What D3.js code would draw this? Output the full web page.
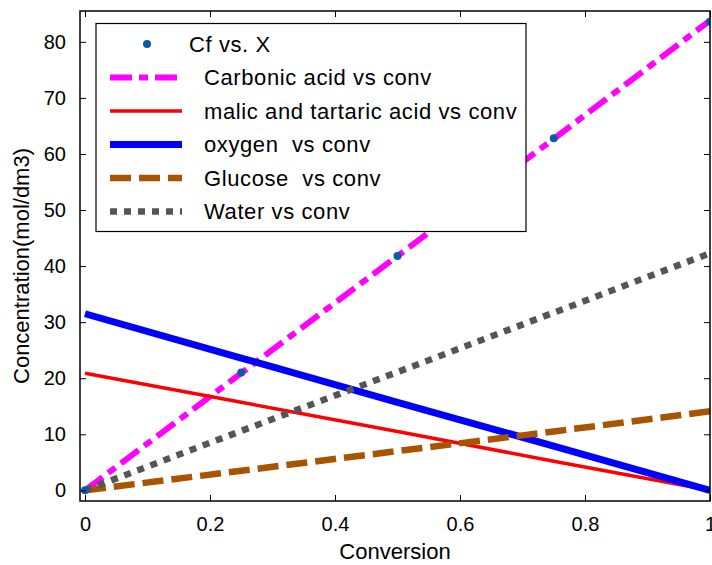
<!DOCTYPE html>
<html>
<head>
<meta charset="utf-8">
<script src="https://cdn.jsdelivr.net/npm/d3@7"></script>
<style>
  body { margin: 0; background: #fff; }
  text { font-family: "Liberation Sans", Arial, Helvetica, sans-serif; fill: #000; white-space: pre; }
</style>
</head>
<body>
<svg id="chart"></svg>
<script>
// values
const conversion = [0, 0.25, 0.5, 0.75, 1];
const cfPoints = [0, 21.0, 41.8, 62.8, 83.6];
const carbonic = [0, 20.9, 41.8, 62.7, 83.8];
const malic = [20.9, 15.7, 10.5, 5.2, 0];
const oxygen = [31.5, 23.6, 15.7, 7.9, 0];
const glucose = [0, 3.5, 7.0, 10.5, 14.1];
const water = [0, 10.6, 21.1, 31.7, 42.3];
const xTicks = [0, 0.2, 0.4, 0.6, 0.8, 1];
const yTicks = [0, 10, 20, 30, 40, 50, 60, 70, 80];

const series = [
    { name: "Carbonic acid vs conv", values: carbonic, color: "#ff00ff", width: 6, dash: "22,7,9,7" },
    { name: "malic and tartaric acid vs conv", values: malic, color: "#ff0000", width: 3.5, dash: null },
    { name: "oxygen  vs conv", values: oxygen, color: "#0000ff", width: 7, dash: null },
    { name: "Glucose  vs conv", values: glucose, color: "#a85400", width: 6.5, dash: "21,8" },
    { name: "Water vs conv", values: water, color: "#555555", width: 6.5, dash: "7,7" }
];

const svgWidth = 712;
const svgHeight = 565;

const svg = d3.select("#chart")
    .attr("width", svgWidth)
    .attr("height", svgHeight);

const margin = { top: 11, right: 2, bottom: 64, left: 80 };
const width = svgWidth - margin.left - margin.right;
const height = svgHeight - margin.top - margin.bottom;

const g = svg.append("g")
    .attr("transform", `translate(${margin.left},${margin.top})`);

const x = d3.scaleLinear()
    .domain([-0.008, 1])
    .range([0, width]);

const y = d3.scaleLinear()
    .domain([-1.9, 85.5])
    .range([height, 0]);

// clip lines to the axes box
svg.append("defs").append("clipPath")
    .attr("id", "clip")
    .append("rect")
    .attr("width", width)
    .attr("height", height);

const plot = g.append("g").attr("clip-path", "url(#clip)");

const line = d3.line()
    .x(d => x(d[0]))
    .y(d => y(d[1]));

series.forEach(s => {
    plot.append("path")
        .datum(conversion.map((c, i) => [c, s.values[i]]))
        .attr("d", line)
        .attr("fill", "none")
        .attr("stroke", s.color)
        .attr("stroke-width", s.width)
        .attr("stroke-dasharray", s.dash);
});

plot.selectAll("circle")
    .data(conversion.map((c, i) => [c, cfPoints[i]]))
    .enter()
    .append("circle")
    .attr("cx", d => x(d[0]))
    .attr("cy", d => y(d[1]))
    .attr("r", 4)
    .attr("fill", "#0a5aaa");

// axes, MATLAB style: ticks pointing inward on all four sides
const tickStyle = sel => {
    sel.select(".domain").remove();
    sel.selectAll("line").attr("stroke", "#000");
};

g.append("g")
    .attr("transform", `translate(0,${height})`)
    .call(d3.axisBottom(x).tickValues(xTicks).tickFormat(d3.format("")).tickSizeInner(-6).tickPadding(16))
    .call(tickStyle)
    .selectAll("text").style("font-size", "20px");

g.append("g")
    .call(d3.axisTop(x).tickValues(xTicks).tickFormat("").tickSizeInner(-6))
    .call(tickStyle);

g.append("g")
    .call(d3.axisLeft(y).tickValues(yTicks).tickSizeInner(-6).tickPadding(14))
    .call(tickStyle)
    .selectAll("text").style("font-size", "20px");

g.append("g")
    .attr("transform", `translate(${width},0)`)
    .call(d3.axisRight(y).tickValues(yTicks).tickFormat("").tickSizeInner(-6))
    .call(tickStyle);

g.append("rect")
    .attr("width", width)
    .attr("height", height)
    .attr("fill", "none")
    .attr("stroke", "#000")
    .attr("stroke-width", 1.5);

svg.append("text")
    .attr("x", 395)
    .attr("y", 559)
    .attr("text-anchor", "middle")
    .style("font-size", "22px")
    .text("Conversion");

svg.append("text")
    .attr("transform", "translate(29,266) rotate(-90)")
    .attr("text-anchor", "middle")
    .style("font-size", "22px")
    .text("Concentration(mol/dm3)");

// legend
const legend = svg.append("g");

legend.append("rect")
    .attr("x", 96)
    .attr("y", 23.5)
    .attr("width", 430)
    .attr("height", 208)
    .attr("fill", "#fff")
    .attr("stroke", "#000")
    .attr("stroke-width", 1.2);

const rowY = i => 44 + i * 33.5;

legend.append("circle")
    .attr("cx", 147)
    .attr("cy", rowY(0))
    .attr("r", 4)
    .attr("fill", "#0a5aaa");

legend.append("text")
    .attr("x", 189)
    .attr("y", rowY(0))
    .attr("dy", "0.36em")
    .style("font-size", "22px")
    .style("letter-spacing", "0.6px")
    .text("Cf vs. X");

series.forEach((s, i) => {
    legend.append("line")
        .attr("x1", 110)
        .attr("x2", 182)
        .attr("y1", rowY(i + 1))
        .attr("y2", rowY(i + 1))
        .attr("stroke", s.color)
        .attr("stroke-width", s.width)
        .attr("stroke-dasharray", s.dash);

    legend.append("text")
        .attr("x", 204)
        .attr("y", rowY(i + 1))
        .attr("dy", "0.36em")
        .style("font-size", "22px")
        .style("letter-spacing", "0.6px")
        .text(s.name);
});
</script>
</body>
</html>
